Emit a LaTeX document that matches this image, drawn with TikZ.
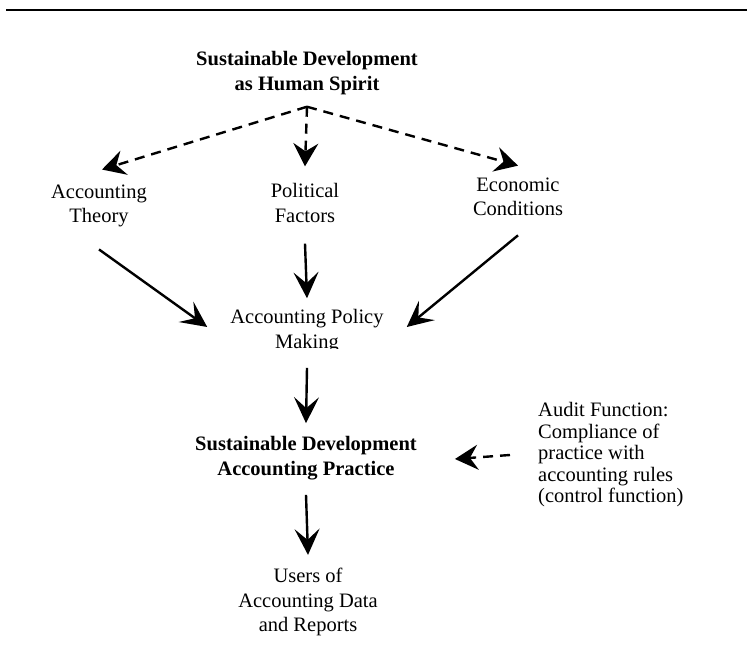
\documentclass[tikz,border=0pt]{standalone}
\usepackage{fontspec}
\setmainfont{Liberation Serif}
\usetikzlibrary{arrows.meta}
\begin{document}
\begin{tikzpicture}[>={Stealth[length=26bp,width=25bp,inset=11bp]},line join=bevel,line width=2.4bp,
  every node/.style={font=\fontsize{20.5bp}{24.5bp}\selectfont,align=center,inner sep=2bp},
  dashline/.style={dash pattern=on 10bp off 7bp,-{Stealth[length=23bp,width=25bp,inset=8bp]}}]
%%
\useasboundingbox (0bp,0bp) rectangle (747bp,650bp);
\draw [line width=2.5bp] (6bp,640bp) -- (747bp,640bp);
%
\node (node_0) at (307bp,577bp) {\bfseries Sustainable Development\\\bfseries as Human Spirit};
  \node (node_1) at (99bp,444bp) {Accounting\\Theory};
  \node (node_2) at (305bp,447bp) {Political\\Factors};
  \node (node_3) at (518bp,453bp) {Economic\\Conditions};
  \begin{scope}
    \clip (150bp,301bp) rectangle (460bp,345bp);
    \node (node_4) at (307bp,319bp) {Accounting Policy\\Making};
  \end{scope}
  \node (node_5) at (306bp,192bp) {\bfseries Sustainable Development\\\bfseries Accounting Practice};
  \node (node_6) [anchor=west,align=left,font=\fontsize{20.5bp}{21.5bp}\selectfont,inner sep=0bp] at (537bp,195bp) {Audit Function:\\Compliance of\\practice with\\accounting rules\\(control function)};
  \node (node_7) at (308bp,48bp) {Users of\\Accounting Data\\and Reports};
%
\coordinate (apex) at ([yshift=-9bp]node_0.south);
  \draw [black,dashline] (apex) -- ([xshift=3bp,yshift=12bp]node_1.north);
  \draw [black,dashline] (apex) -- ([yshift=14bp]node_2.north);
  \draw [black,dashline] (apex) -- ([yshift=9bp]node_3.north);
  \draw [black,->] ([yshift=-19bp]node_1.south) -- ([xshift=-20bp,yshift=4bp]node_4.west);
  \draw [black,->] ([yshift=-18bp]node_2.south) -- ([yshift=8bp]node_4.north);
  \draw [black,->] ([yshift=-16bp]node_3.south) -- ([xshift=20bp,yshift=4bp]node_4.east);
  \draw [black,->] ([yshift=-12bp]node_4.south) -- ([yshift=10bp]node_5.north);
  \draw [black,dashline] ([xshift=-27bp]node_6.west) -- ([xshift=35bp,yshift=-1bp]node_5.east);
  \draw [black,->] ([yshift=-12bp]node_5.south) -- ([yshift=10bp]node_7.north);
%
\end{tikzpicture}
\end{document}
